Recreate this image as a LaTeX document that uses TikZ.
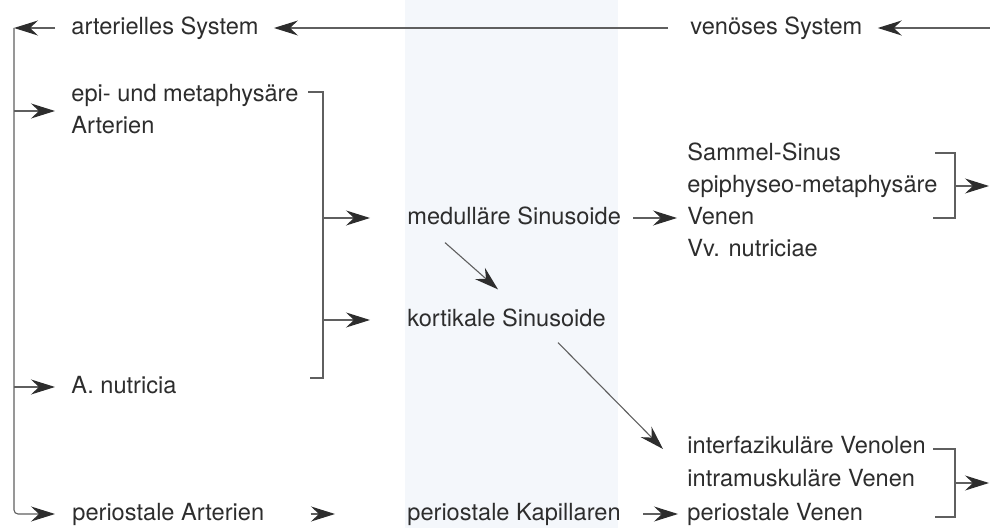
\documentclass[tikz,border=0pt]{standalone}
\usepackage{fontspec}
\setmainfont{TeX Gyre Heros}
\usetikzlibrary{arrows.meta,calc}

\definecolor{bandblue}{RGB}{244,247,251}
\definecolor{ink}{RGB}{45,45,45}
\definecolor{wire}{RGB}{95,95,95}

\tikzset{
  lbl/.style={inner sep=0pt,anchor=west,text=ink,text height=8.7pt,text depth=2.5pt,
    font=\fontsize{11.8}{14}\selectfont},
  flow/.style={->,draw=wire,line width=0.55pt},
  bracket/.style={draw=wire,line width=0.55pt},
}

\begin{document}
\begin{tikzpicture}[x=0.5pt,y=-0.5pt,>={Stealth[length=12pt,width=7.5pt,inset=4pt,color=ink]}]
        \useasboundingbox (0,0) rectangle (990,528);
        \fill[bandblue] (405,0) rectangle (618,528);

        % arterial side
        \node[lbl] (arteriell) at (71,28) {arterielles System};
        \node[lbl] (epi1) at (71,95) {epi- und metaphysäre};
        \node[lbl] (epi2) at (71,127) {Arterien};
        \node[lbl] (nutricia) at (71,387) {A. nutricia};
        \node[lbl] (perart) at (72,514) {periostale Arterien};

        % capillary bed
        \node[lbl] (medul) at (407,218) {medulläre Sinusoide};
        \node[lbl] (kortik) at (407,320) {kortikale Sinusoide};
        \node[lbl] (perkap) at (407,514) {periostale Kapillaren};

        % venous side
        \node[lbl] (venoes) at (690,28) {venöses System};
        \node[lbl] (sammel) at (687,154) {Sammel-Sinus};
        \node[lbl] (epiven) at (687,186) {epiphyseo-metaphysäre};
        \node[lbl] (venen) at (687,218) {Venen};
        \node[lbl] (vvnut) at (687,250) {Vv. nutriciae};
        \node[lbl] (interf) at (687,447) {interfazikuläre Venolen};
        \node[lbl] (intram) at (687,480) {intramuskuläre Venen};
        \node[lbl] (perven) at (687,514) {periostale Venen};

        \coordinate (trunk) at (14,28);
        \coordinate (epi) at ($(epi1.west)!0.5!(epi2.west)$);
        \coordinate (inflow) at (990,28);
        \coordinate (out1) at (989,186);
        \coordinate (out2) at (989,483);

        % top line: venous back to arterial
        \draw[flow,shorten >=7.5pt] (inflow) -- (venoes.east);
        \draw[flow,shorten <=11pt,shorten >=7.5pt] (venoes.west) -- (arteriell.east);
        \draw[flow,shorten <=8pt] (arteriell.west) -- (trunk);

        % arterial trunk with its branches
        \draw[flow,rounded corners=2pt,shorten >=8.5pt] (trunk) -- (trunk |- perart) -- (perart.west);
        \draw[flow,shorten >=8pt] (trunk |- epi) -- (epi);
        \draw[flow,shorten >=8pt] (trunk |- nutricia) -- (nutricia.west);

        % bracket epi ... A. nutricia
        \draw[bracket] (308,92) -- (323,92) -- (323,378) -- (310,378);
        \draw[flow,shorten >=18.5pt] (323,0 |- medul) -- (medul.west);
        \draw[flow,shorten >=18.5pt] (323,0 |- kortik) -- (kortik.west);

        \draw[flow,shorten <=23pt,shorten >=36pt] (perart.east) -- (perkap.west);
        \draw[flow,shorten <=6pt,shorten >=5pt] (medul.east) -- (venen.west);
        \draw[flow,shorten <=11pt,shorten >=4.5pt] (perkap.east) -- (perven.west);
        \draw[flow] ($(medul.south west)+(38,13)$) -- ($(kortik.north west)+(91,-19)$);
        \draw[flow] ($(kortik.south west)+(151,11)$) -- ($(interf.west)+(-24,2)$);

        % venous brackets
        \draw[bracket] (935,153) -- (955,153) -- (955,218) -- (933,218);
        \draw[flow] (955,186) -- (out1);
        \draw[bracket] (933,449) -- (955,449) -- (955,517) -- (935,517);
        \draw[flow] (955,483) -- (out2);
    \end{tikzpicture}
\end{document}
